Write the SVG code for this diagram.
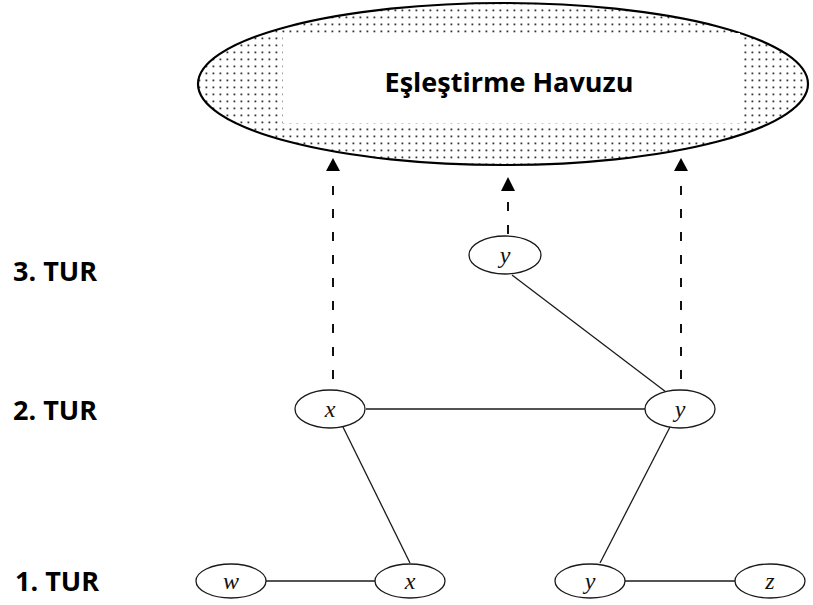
<svg xmlns="http://www.w3.org/2000/svg" width="813" height="605" viewBox="0 0 813 605">
  <style>
    .node ellipse { fill: #ffffff; stroke: #1a1a1a; stroke-width: 1.3; }
    .node text { font-family: "Liberation Serif", "DejaVu Serif", serif; font-style: italic; font-size: 24px; fill: #111; text-anchor: middle; }
    .label { font-family: "Open Sans", "Liberation Sans", sans-serif; font-weight: bold; font-size: 27px; fill: #000; }
    .edge { stroke: #1a1a1a; stroke-width: 1.3; fill: none; }
    .dash { stroke: #111; stroke-width: 2; stroke-dasharray: 9 14; fill: none; }
    .head { fill: #000; }
  </style>
  <defs>
    <pattern id="dots" width="7" height="7" patternUnits="userSpaceOnUse">
      <rect x="2.5" y="2.5" width="1.8" height="1.8" fill="#333"/>
    </pattern>
  </defs>
  <rect width="813" height="605" fill="#ffffff"/>

  <!-- matching pool -->
  <g id="pool">
    <ellipse cx="503" cy="84" rx="305" ry="81" fill="#ffffff"/>
    <ellipse cx="503" cy="84" rx="305" ry="81" fill="url(#dots)" stroke="#000" stroke-width="2.2"/>
    <rect x="283" y="33" width="457" height="90" fill="#ffffff"/>
    <text x="509" y="92" class="label" font-size="26.5" text-anchor="middle">Eşleştirme Havuzu</text>
  </g>

  <!-- round labels -->
  <g id="round-labels">
    <text x="13" y="281" class="label">3. TUR</text>
    <text x="13" y="420" class="label">2. TUR</text>
    <text x="15" y="591" class="label">1. TUR</text>
  </g>

  <!-- connectors -->
  <g id="connectors">
    <line class="dash" x1="333" y1="186" x2="333" y2="391"/>
    <line class="dash" x1="681" y1="186" x2="681" y2="391"/>
    <line class="dash" x1="508" y1="202" x2="508" y2="237" stroke-dasharray="9 16"/>
    <polygon class="head" points="333,158 326,171 340,171"/>
    <polygon class="head" points="508,177 501,191 515,191"/>
    <polygon class="head" points="681,158 674,171 688,171"/>

    <line class="edge" x1="366" y1="409" x2="645" y2="409"/>
    <line class="edge" x1="512" y1="275" x2="666" y2="392"/>
    <line class="edge" x1="343" y1="427" x2="410" y2="563"/>
    <line class="edge" x1="670" y1="427" x2="600" y2="563"/>
    <line class="edge" x1="266" y1="581" x2="375" y2="581"/>
    <line class="edge" x1="625" y1="581" x2="735" y2="581"/>
  </g>

  <!-- round 3 -->
  <g id="node-y3" class="node">
    <ellipse cx="505" cy="255" rx="36" ry="19"/>
    <text x="505" y="263">y</text>
  </g>

  <!-- round 2 -->
  <g id="node-x2" class="node">
    <ellipse cx="330" cy="409" rx="35" ry="19"/>
    <text x="330" y="417">x</text>
  </g>
  <g id="node-y2" class="node">
    <ellipse cx="680" cy="409" rx="35" ry="19"/>
    <text x="680" y="417">y</text>
  </g>

  <!-- round 1 -->
  <g id="node-w" class="node">
    <ellipse cx="231" cy="581" rx="35" ry="17"/>
    <text x="231" y="589">w</text>
  </g>
  <g id="node-x1" class="node">
    <ellipse cx="410" cy="581" rx="35" ry="17"/>
    <text x="410" y="589">x</text>
  </g>
  <g id="node-y1" class="node">
    <ellipse cx="590" cy="581" rx="35" ry="17"/>
    <text x="590" y="589">y</text>
  </g>
  <g id="node-z" class="node">
    <ellipse cx="770" cy="581" rx="35" ry="17"/>
    <text x="770" y="589">z</text>
  </g>
</svg>
